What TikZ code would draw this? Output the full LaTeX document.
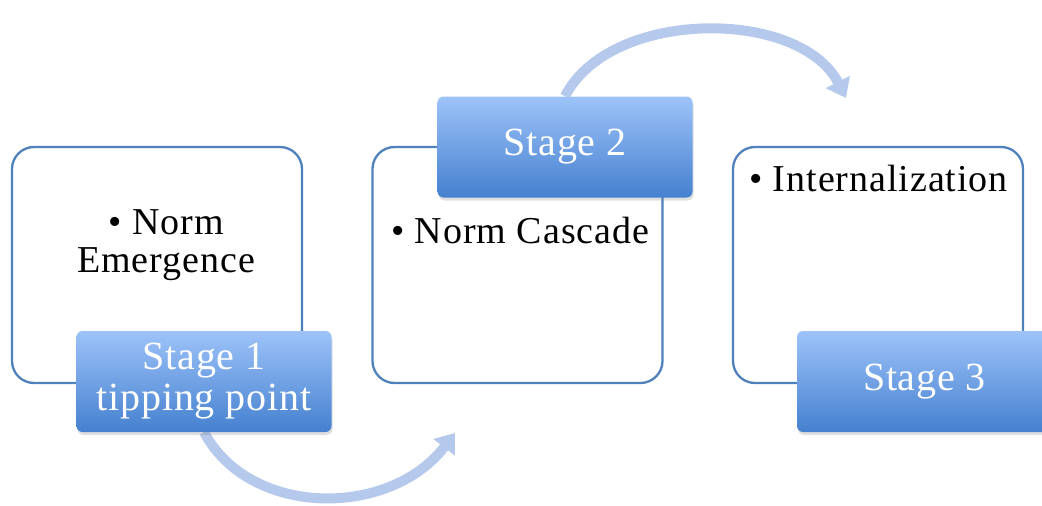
\documentclass[tikz,border=0pt]{standalone}
\usepackage{fontspec}
\setmainfont{Liberation Serif}
\usetikzlibrary{arrows.meta,shadows,backgrounds}
\definecolor{boxline}{HTML}{4F81BD}
\definecolor{labtop}{HTML}{9DC3F9}
\definecolor{labbot}{HTML}{4580CF}
\definecolor{arrowc}{HTML}{B5C9EC}
\begin{document}
\begin{tikzpicture}[x=1pt,y=-1pt,
  stagebox/.style={draw=boxline, line width=2.3pt, fill=white, rounded corners=22pt,
    minimum width=290pt, minimum height=236pt, inner sep=0pt},
  stagelabel/.style={rounded corners=6pt, top color=labtop, bottom color=labbot,
    minimum width=255pt, minimum height=101pt, inner sep=0pt, text=white,
    font=\fontsize{40}{41}\selectfont\addfontfeature{LetterSpace=2}, align=center,
    drop shadow={opacity=0.25, shadow xshift=1pt, shadow yshift=-3pt}},
  bodytext/.style={font=\fontsize{38}{38}\selectfont\addfontfeature{LetterSpace=2.5}, inner sep=0pt, align=center},
  flow/.style={line width=10pt, draw=arrowc, -{Triangle[width=26pt,length=18pt]}}
]
\useasboundingbox (0,0) rectangle (1042,506);
\clip (0,0) rectangle (1042,506);
% main boxes
\node[stagebox] (b1) at (157,265) {};
\node[stagebox] (b2) at (517.5,265) {};
\node[stagebox] (b3) at (878,265) {};
% body texts
\node[bodytext] (t1) at (166,245) {\textbullet\ Norm\\Emergence};
\node[bodytext, anchor=west] (t2) at (391,230) {\textbullet\ Norm Cascade};
\node[bodytext, anchor=west] (t3) at (749,179) {\textbullet\ Internalization};
% stage labels
\node[stagelabel] (l1) at (204,381.5) {Stage 1\\tipping point};
\node[stagelabel] (l2) at (565,147) {Stage 2};
\node[stagelabel] (l3) at (924.5,381.5) {Stage 3};
% arrow end points
\coordinate (a1end) at (455,433);
\coordinate (a2end) at (846,98);
\begin{scope}[on background layer]
\draw[flow] (l1.south) .. controls (250,518) and (390,518) .. (a1end);
\draw[flow] (l2.north) .. controls (610,8) and (800,8) .. (a2end);
\end{scope}
\end{tikzpicture}
\end{document}
